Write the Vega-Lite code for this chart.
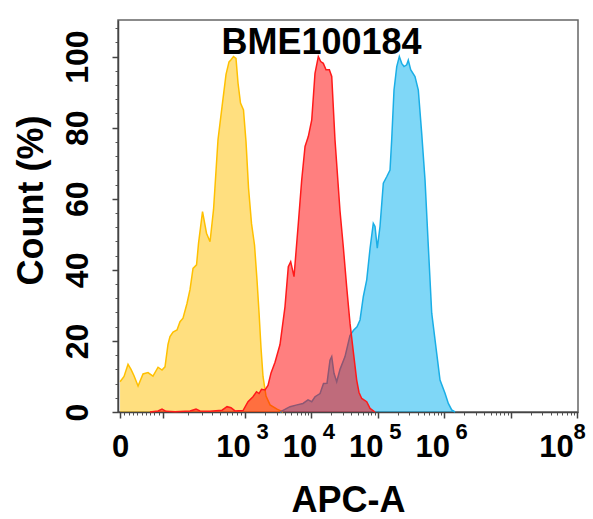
{
  "$schema": "https://vega.github.io/schema/vega-lite/v6.json",
  "width": 460,
  "height": 392,
  "autosize": {"type": "none"},
  "padding": {"left": 118, "top": 20, "right": 15, "bottom": 107},
  "background": "white",
  "datasets": {
    "yellow": [
      {"apc": 1.118, "count": 8.5}, {"apc": 1.178, "count": 10}, {"apc": 1.238, "count": 13.4}, {"apc": 1.283, "count": 12}, {"apc": 1.328, "count": 10.2}, {"apc": 1.389, "count": 7.3}, {"apc": 1.464, "count": 10.7}, {"apc": 1.539, "count": 11.1}, {"apc": 1.614, "count": 10.1}, {"apc": 1.69, "count": 12.6}, {"apc": 1.75, "count": 11.8}, {"apc": 1.795, "count": 12.7}, {"apc": 1.84, "count": 19}, {"apc": 1.87, "count": 21.2}, {"apc": 1.916, "count": 22.5}, {"apc": 1.976, "count": 23.1}, {"apc": 2.021, "count": 25.4}, {"apc": 2.066, "count": 26.4}, {"apc": 2.127, "count": 30.6}, {"apc": 2.172, "count": 34.5}, {"apc": 2.217, "count": 40.4}, {"apc": 2.27, "count": 41.4}, {"apc": 2.3, "count": 47.5}, {"apc": 2.36, "count": 56.4}, {"apc": 2.42, "count": 50.3}, {"apc": 2.473, "count": 47.9}, {"apc": 2.526, "count": 57}, {"apc": 2.593, "count": 76.6}, {"apc": 2.654, "count": 85.9}, {"apc": 2.714, "count": 95}, {"apc": 2.759, "count": 98.5}, {"apc": 2.789, "count": 99.1}, {"apc": 2.827, "count": 100}, {"apc": 2.864, "count": 99.5}, {"apc": 2.895, "count": 92.5}, {"apc": 2.932, "count": 86.9}, {"apc": 2.977, "count": 85}, {"apc": 3.015, "count": 76}, {"apc": 3.053, "count": 63}, {"apc": 3.098, "count": 53}, {"apc": 3.143, "count": 47}, {"apc": 3.181, "count": 37}, {"apc": 3.211, "count": 28}, {"apc": 3.241, "count": 18}, {"apc": 3.271, "count": 10}, {"apc": 3.316, "count": 4.5}, {"apc": 3.377, "count": 2}, {"apc": 3.482, "count": 0.8}, {"apc": 3.572, "count": 0}
    ],
    "blue": [
      {"apc": 3.527, "count": 0}, {"apc": 3.587, "count": 0.6}, {"apc": 3.678, "count": 1.5}, {"apc": 3.783, "count": 2}, {"apc": 3.873, "count": 2.4}, {"apc": 3.949, "count": 3.4}, {"apc": 4.005, "count": 2.9}, {"apc": 4.054, "count": 4.3}, {"apc": 4.13, "count": 5.2}, {"apc": 4.182, "count": 8}, {"apc": 4.235, "count": 8.1}, {"apc": 4.28, "count": 14.6}, {"apc": 4.306, "count": 15.6}, {"apc": 4.34, "count": 10.9}, {"apc": 4.381, "count": 8.5}, {"apc": 4.431, "count": 12}, {"apc": 4.506, "count": 15.6}, {"apc": 4.581, "count": 21.5}, {"apc": 4.634, "count": 23}, {"apc": 4.687, "count": 24}, {"apc": 4.732, "count": 25.9}, {"apc": 4.782, "count": 32.5}, {"apc": 4.833, "count": 37.2}, {"apc": 4.883, "count": 46}, {"apc": 4.932, "count": 53.1}, {"apc": 4.958, "count": 52.2}, {"apc": 4.992, "count": 46.1}, {"apc": 5.033, "count": 52.2}, {"apc": 5.083, "count": 64.4}, {"apc": 5.134, "count": 66.2}, {"apc": 5.184, "count": 68.1}, {"apc": 5.209, "count": 76.6}, {"apc": 5.244, "count": 90.6}, {"apc": 5.285, "count": 97.2}, {"apc": 5.324, "count": 100}, {"apc": 5.36, "count": 98.1}, {"apc": 5.395, "count": 97.2}, {"apc": 5.435, "count": 97.7}, {"apc": 5.459, "count": 99}, {"apc": 5.495, "count": 96.3}, {"apc": 5.56, "count": 94.4}, {"apc": 5.61, "count": 90.6}, {"apc": 5.661, "count": 78.4}, {"apc": 5.711, "count": 65.3}, {"apc": 5.761, "count": 46.5}, {"apc": 5.812, "count": 27.8}, {"apc": 5.887, "count": 16.5}, {"apc": 5.937, "count": 9}, {"apc": 6.012, "count": 5.3}, {"apc": 6.062, "count": 2.4}, {"apc": 6.113, "count": 0.6}, {"apc": 6.163, "count": 0}
    ],
    "red": [
      {"apc": 1.569, "count": 0}, {"apc": 1.69, "count": 0.3}, {"apc": 1.75, "count": 0.8}, {"apc": 1.81, "count": 0.2}, {"apc": 1.946, "count": 0.1}, {"apc": 2.172, "count": 0.3}, {"apc": 2.262, "count": 0.8}, {"apc": 2.322, "count": 0.3}, {"apc": 2.473, "count": 0.2}, {"apc": 2.654, "count": 0.5}, {"apc": 2.729, "count": 1.5}, {"apc": 2.789, "count": 1.2}, {"apc": 2.849, "count": 0.3}, {"apc": 2.97, "count": 0.4}, {"apc": 3.045, "count": 2.9}, {"apc": 3.12, "count": 4.3}, {"apc": 3.173, "count": 5.7}, {"apc": 3.211, "count": 5.2}, {"apc": 3.248, "count": 6.4}, {"apc": 3.301, "count": 6.2}, {"apc": 3.346, "count": 7.5}, {"apc": 3.392, "count": 11}, {"apc": 3.452, "count": 14}, {"apc": 3.527, "count": 19}, {"apc": 3.602, "count": 29.6}, {"apc": 3.652, "count": 40.9}, {"apc": 3.688, "count": 42.3}, {"apc": 3.738, "count": 38.1}, {"apc": 3.803, "count": 53.1}, {"apc": 3.854, "count": 65.3}, {"apc": 3.904, "count": 74.7}, {"apc": 3.953, "count": 77.5}, {"apc": 4.005, "count": 82.2}, {"apc": 4.054, "count": 95.3}, {"apc": 4.104, "count": 100}, {"apc": 4.14, "count": 98.6}, {"apc": 4.179, "count": 98.1}, {"apc": 4.22, "count": 96.3}, {"apc": 4.27, "count": 96.3}, {"apc": 4.306, "count": 94.4}, {"apc": 4.355, "count": 76.6}, {"apc": 4.431, "count": 56.5}, {"apc": 4.48, "count": 46.5}, {"apc": 4.532, "count": 35}, {"apc": 4.581, "count": 25}, {"apc": 4.631, "count": 17}, {"apc": 4.682, "count": 9}, {"apc": 4.717, "count": 5.5}, {"apc": 4.758, "count": 3.8}, {"apc": 4.833, "count": 2.9}, {"apc": 4.883, "count": 1}, {"apc": 4.958, "count": 0}
    ]
  },
  "layer": [
    {
      "data": {"name": "yellow"},
      "mark": {"type": "area", "color": "#FFC000", "fillOpacity": 0.5, "line": {"color": "#FFC000", "strokeWidth": 1.5}},
      "encoding": {
        "x": {"field": "apc", "type": "quantitative", "scale": {"domain": [1.087, 8.015], "nice": false, "zero": false},
          "axis": {"orient": "bottom", "values": [1.182, 1.247, 1.312, 1.377, 1.441, 1.506, 1.571, 1.636, 1.7, 2.137, 2.354, 2.509, 2.628, 2.726, 2.809, 2.881, 2.943, 3.301, 3.477, 3.602, 3.699, 3.778, 3.845, 3.903, 3.954, 4.301, 4.477, 4.602, 4.699, 4.778, 4.845, 4.903, 4.954, 5.301, 5.477, 5.602, 5.699, 5.778, 5.845, 5.903, 5.954, 6.301, 6.477, 6.602, 6.699, 6.778, 6.845, 6.903, 6.954, 7.301, 7.477, 7.602, 7.699, 7.778, 7.845, 7.903, 7.954], "labels": false, "domain": false, "grid": false, "ticks": true, "tickSize": 3, "tickColor": "#555", "title": null}},
        "y": {"field": "count", "type": "quantitative", "scale": {"domain": [0, 110.3], "nice": false, "zero": true},
          "axis": {"orient": "left", "values": [4, 8, 12, 16, 24, 28, 32, 36, 44, 48, 52, 56, 64, 68, 72, 76, 84, 88, 92, 96, 104, 108], "labels": false, "domain": false, "grid": false, "ticks": true, "tickSize": 3, "tickColor": "#555", "title": null}}
      }
    },
    {
      "data": {"name": "blue"},
      "mark": {"type": "area", "color": "#00B0F0", "fillOpacity": 0.5, "line": {"color": "#1AAEE6", "strokeWidth": 1.5}},
      "encoding": {
        "x": {"field": "apc", "type": "quantitative",
          "axis": {"orient": "bottom", "values": [3, 4, 5, 6, 8], "format": "d", "labelFlush": false, "labelOverlap": false,
            "labelFont": "Liberation Sans", "labelFontSize": 22, "labelFontWeight": "bold", "labelColor": "black", "labelBaseline": "top", "labelPadding": 9,
            "labelOffset": {"condition": {"test": "datum.value == 8", "value": 2}, "value": 17},
            "domain": false, "grid": false, "ticks": false, "tickSize": 0, "title": null}},
        "y": {"field": "count", "type": "quantitative",
          "axis": {"orient": "right", "labels": false, "ticks": false, "domain": false, "grid": false,
            "title": "BME100184", "titleFont": "Liberation Sans", "titleFontSize": 36, "titleFontWeight": "bold", "titleColor": "black", "titleAngle": 0, "titleAlign": "center", "titleBaseline": "alphabetic", "titleX": -257, "titleY": 33}}
      }
    },
    {
      "data": {"name": "red"},
      "mark": {"type": "area", "color": "#FF0000", "fillOpacity": 0.5, "line": {"color": "#FF1A1A", "strokeWidth": 1.5}},
      "encoding": {
        "x": {"field": "apc", "type": "quantitative",
          "axis": {"orient": "bottom", "values": [1.118, 1.765, 3, 4, 5, 6, 7, 8], "labelFlush": false, "labelOverlap": false,
            "labelExpr": "datum.value < 1.5 ? '0' : (datum.value == 3 || datum.value == 4 || datum.value == 5 || datum.value == 6 || datum.value == 8) ? '10' : ''",
            "labelFont": "Liberation Sans", "labelFontSize": 31, "labelFontWeight": "bold", "labelColor": "black", "labelBaseline": "top", "labelPadding": 14,
            "labelOffset": {"condition": [{"test": "datum.value < 1.5", "value": 0}, {"test": "datum.value == 8", "value": -21}], "value": -12},
            "domain": true, "domainColor": "#444", "domainWidth": 1.5, "grid": false, "ticks": true, "tickSize": 6, "tickColor": "#444", "tickWidth": 1.5,
            "title": "APC-A", "titleFont": "Liberation Sans", "titleFontSize": 36, "titleFontWeight": "bold", "titleColor": "black", "titleBaseline": "alphabetic", "titleAnchor": "middle", "titleY": 99}},
        "y": {"field": "count", "type": "quantitative",
          "axis": {"orient": "left", "values": [0, 20, 40, 60, 80, 100], "labelFlush": false, "labelOverlap": false,
            "labelFont": "Liberation Sans", "labelFontSize": 32, "labelFontWeight": "bold", "labelColor": "black", "labelAngle": -90, "labelAlign": "center", "labelBaseline": "alphabetic", "labelPadding": 25,
            "domain": true, "domainColor": "#444", "domainWidth": 1.5, "grid": false, "ticks": true, "tickSize": 6, "tickColor": "#444", "tickWidth": 1.5,
            "title": "Count (%)", "titleFont": "Liberation Sans", "titleFontSize": 36, "titleFontWeight": "bold", "titleColor": "black", "titleAngle": -90, "titleAlign": "center", "titleBaseline": "alphabetic", "titleX": -76, "titleY": 180}}
      }
    }
  ],
  "resolve": {"axis": {"x": "independent", "y": "independent"}},
  "config": {"view": {"stroke": "#666", "strokeWidth": 1.5}, "font": "Liberation Sans"}
}
